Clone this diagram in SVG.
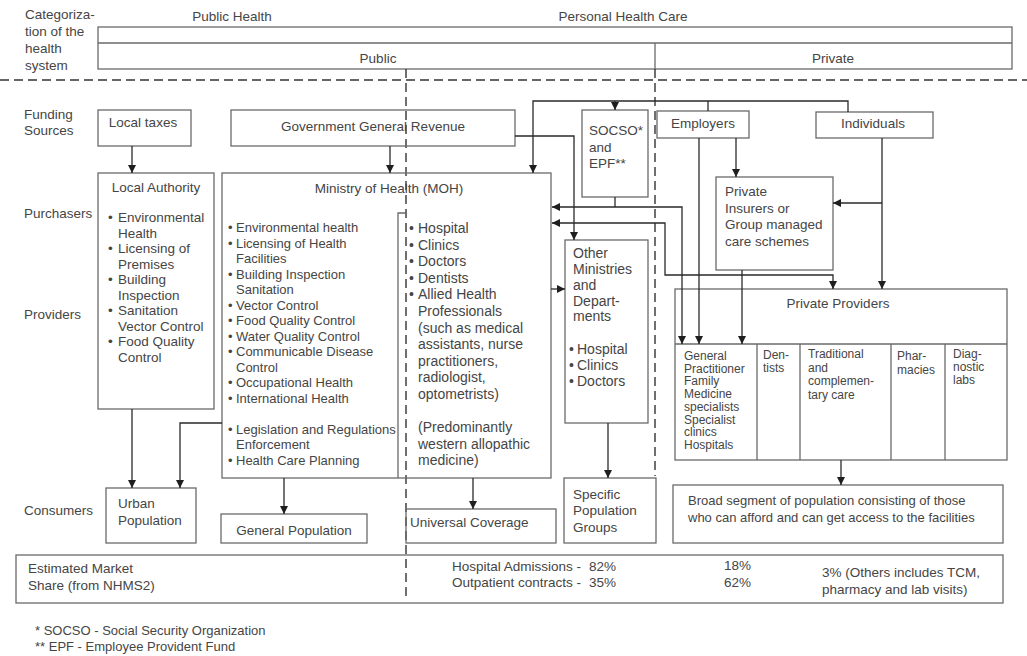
<svg xmlns="http://www.w3.org/2000/svg" width="1027" height="656" viewBox="0 0 1027 656">
  <defs>
    <marker id="arr" markerUnits="userSpaceOnUse" markerWidth="9" markerHeight="9" refX="8" refY="4" orient="auto-start-reverse">
      <path d="M0,0 L8,4 L0,8 z" fill="#1e1e1e"/>
    </marker>
    <style>
      .box { fill: none; stroke: #6a6a6a; stroke-width: 1.3; }
      .div { fill: none; stroke: #6a6a6a; stroke-width: 1.3; }
      .dash { fill: none; stroke: #333; stroke-width: 1.4; stroke-dasharray: 9 5; }
      .conn { fill: none; stroke: #2a2a2a; stroke-width: 1.3; }
      .arrow { marker-end: url(#arr); }
      .both { marker-start: url(#arr); marker-end: url(#arr); }
      text { font-family: "Liberation Sans", Arial, sans-serif; font-size: 13.5px; fill: #454545; }
      .s13 { font-size: 13px; }
      .s14 { font-size: 14px; }
      .s12 { font-size: 12px; }
      .mid { text-anchor: middle; }
      .end { text-anchor: end; }
    </style>
  </defs>
  <rect width="1027" height="656" fill="#ffffff"/>

  <!-- categorization header -->
  <g id="header">
    <text x="25" y="19">Categoriza-</text>
    <text x="25" y="36">tion of the</text>
    <text x="25" y="53">health</text>
    <text x="25" y="70">system</text>
    <text x="232" y="21" class="mid">Public Health</text>
    <text x="623" y="21" class="mid">Personal Health Care</text>
    <rect class="box" x="98" y="27" width="914" height="42"/>
    <line class="div" x1="98" y1="43" x2="1012" y2="43"/>
    <line class="div" x1="655" y1="43" x2="655" y2="69"/>
    <text x="378" y="63" class="mid">Public</text>
    <text x="833" y="63" class="mid">Private</text>
  </g>

  <!-- separators -->
  <g id="separators">
    <line class="dash" x1="0" y1="80" x2="1027" y2="80"/>
    <line class="dash" x1="406" y1="69" x2="406" y2="600"/>
    <line class="dash" x1="655" y1="69" x2="655" y2="476"/>
  </g>

  <!-- row labels -->
  <g id="row-labels">
    <text x="24" y="119">Funding</text>
    <text x="24" y="135">Sources</text>
    <text x="24" y="218">Purchasers</text>
    <text x="24" y="319">Providers</text>
    <text x="24" y="515">Consumers</text>
  </g>

  <!-- funding sources -->
  <g id="local-taxes">
    <rect class="box" x="98" y="110" width="93" height="36"/>
    <text x="143" y="127" class="mid">Local taxes</text>
  </g>
  <g id="government-revenue">
    <rect class="box" x="231" y="110" width="284" height="36"/>
    <text x="373" y="131" class="mid">Government General Revenue</text>
  </g>
  <g id="socso-epf">
    <rect class="box" x="582" y="110" width="66" height="87"/>
    <text x="589" y="135">SOCSO*</text>
    <text x="589" y="152">and</text>
    <text x="589" y="168">EPF**</text>
  </g>
  <g id="employers">
    <rect class="box" x="657" y="111" width="92" height="27"/>
    <text x="703" y="128" class="mid">Employers</text>
  </g>
  <g id="individuals">
    <rect class="box" x="816" y="112" width="117" height="26"/>
    <text x="873" y="128" class="mid">Individuals</text>
  </g>

  <!-- purchasers / providers -->
  <g id="local-authority">
    <rect class="box" x="98" y="173" width="116" height="236"/>
    <text x="156" y="192" class="mid">Local Authority</text>
    <text x="108" y="222">•</text><text x="118" y="222">Environmental</text>
    <text x="118" y="237.5">Health</text>
    <text x="108" y="253">•</text><text x="118" y="253">Licensing of</text>
    <text x="118" y="268.5">Premises</text>
    <text x="108" y="284">•</text><text x="118" y="284">Building</text>
    <text x="118" y="299.5">Inspection</text>
    <text x="108" y="315">•</text><text x="118" y="315">Sanitation</text>
    <text x="118" y="330.5">Vector Control</text>
    <text x="108" y="346">•</text><text x="118" y="346">Food Quality</text>
    <text x="118" y="361.5">Control</text>
  </g>

  <g id="moh">
    <rect class="box" x="222" y="173" width="329" height="305"/>
    <path class="div" d="M406,213 H398 V478"/>
    <text x="389" y="193" class="mid">Ministry of Health (MOH)</text>
    <text x="228" y="232" class="s13">•</text><text x="236" y="232" class="s13">Environmental health</text>
    <text x="228" y="247.5" class="s13">•</text><text x="236" y="247.5" class="s13">Licensing of Health</text>
    <text x="236" y="263" class="s13">Facilities</text>
    <text x="228" y="278.5" class="s13">•</text><text x="236" y="278.5" class="s13">Building Inspection</text>
    <text x="236" y="294" class="s13">Sanitation</text>
    <text x="228" y="309.5" class="s13">•</text><text x="236" y="309.5" class="s13">Vector Control</text>
    <text x="228" y="325" class="s13">•</text><text x="236" y="325" class="s13">Food Quality Control</text>
    <text x="228" y="340.5" class="s13">•</text><text x="236" y="340.5" class="s13">Water Quality Control</text>
    <text x="228" y="356" class="s13">•</text><text x="236" y="356" class="s13">Communicable Disease</text>
    <text x="236" y="371.5" class="s13">Control</text>
    <text x="228" y="387" class="s13">•</text><text x="236" y="387" class="s13">Occupational Health</text>
    <text x="228" y="402.5" class="s13">•</text><text x="236" y="402.5" class="s13">International Health</text>
    <text x="228" y="433.5" class="s13">•</text><text x="236" y="433.5" class="s13">Legislation and Regulations</text>
    <text x="236" y="449" class="s13">Enforcement</text>
    <text x="228" y="464.5" class="s13">•</text><text x="236" y="464.5" class="s13">Health Care Planning</text>
    <text x="409" y="233" class="s14">•</text><text x="418" y="233" class="s14">Hospital</text>
    <text x="409" y="249.5" class="s14">•</text><text x="418" y="249.5" class="s14">Clinics</text>
    <text x="409" y="266" class="s14">•</text><text x="418" y="266" class="s14">Doctors</text>
    <text x="409" y="282.5" class="s14">•</text><text x="418" y="282.5" class="s14">Dentists</text>
    <text x="409" y="299" class="s14">•</text><text x="418" y="299" class="s14">Allied Health</text>
    <text x="418" y="316" class="s14">Professionals</text>
    <text x="418" y="332.5" class="s14">(such as medical</text>
    <text x="418" y="349" class="s14">assistants, nurse</text>
    <text x="418" y="365.5" class="s14">practitioners,</text>
    <text x="418" y="382" class="s14">radiologist,</text>
    <text x="418" y="398.5" class="s14">optometrists)</text>
    <text x="418" y="432" class="s14">(Predominantly</text>
    <text x="418" y="448.5" class="s14">western allopathic</text>
    <text x="418" y="465" class="s14">medicine)</text>
  </g>

  <g id="other-ministries">
    <rect class="box" x="565" y="240" width="83" height="183"/>
    <text x="573" y="258" class="s14">Other</text>
    <text x="573" y="274" class="s14">Ministries</text>
    <text x="573" y="290" class="s14">and</text>
    <text x="573" y="306" class="s14">Depart-</text>
    <text x="573" y="321" class="s14">ments</text>
    <text x="569" y="354" class="s14">•</text><text x="577" y="354" class="s14">Hospital</text>
    <text x="569" y="370" class="s14">•</text><text x="577" y="370" class="s14">Clinics</text>
    <text x="569" y="386" class="s14">•</text><text x="577" y="386" class="s14">Doctors</text>
  </g>

  <g id="private-insurers">
    <rect class="box" x="716" y="177" width="117" height="93"/>
    <text x="725" y="196">Private</text>
    <text x="725" y="213">Insurers or</text>
    <text x="725" y="229">Group managed</text>
    <text x="725" y="246">care schemes</text>
  </g>

  <g id="private-providers">
    <rect class="box" x="675" y="289" width="332" height="171"/>
    <line class="div" x1="675" y1="344" x2="1007" y2="344"/>
    <line class="div" x1="757" y1="344" x2="757" y2="460"/>
    <line class="div" x1="800" y1="344" x2="800" y2="460"/>
    <line class="div" x1="891" y1="344" x2="891" y2="460"/>
    <line class="div" x1="945" y1="344" x2="945" y2="460"/>
    <text x="838" y="308" class="mid">Private Providers</text>
    <text x="684" y="360" class="s12">General</text>
    <text x="684" y="372.7" class="s12">Practitioner</text>
    <text x="684" y="385.4" class="s12">Family</text>
    <text x="684" y="398.1" class="s12">Medicine</text>
    <text x="684" y="410.8" class="s12">specialists</text>
    <text x="684" y="423.5" class="s12">Specialist</text>
    <text x="684" y="436.2" class="s12">clinics</text>
    <text x="684" y="448.9" class="s12">Hospitals</text>
    <text x="763" y="359" class="s12">Den-</text>
    <text x="763" y="372" class="s12">tists</text>
    <text x="808" y="358" class="s12">Traditional</text>
    <text x="808" y="371.5" class="s12">and</text>
    <text x="808" y="385" class="s12">complemen-</text>
    <text x="808" y="398.5" class="s12">tary care</text>
    <text x="897" y="360" class="s12">Phar-</text>
    <text x="897" y="374" class="s12">macies</text>
    <text x="953" y="358" class="s12">Diag-</text>
    <text x="953" y="371" class="s12">nostic</text>
    <text x="953" y="384" class="s12">labs</text>
  </g>

  <!-- consumers -->
  <g id="urban-population">
    <rect class="box" x="106" y="488" width="90" height="55"/>
    <text x="118" y="508">Urban</text>
    <text x="118" y="525">Population</text>
  </g>
  <g id="general-population">
    <rect class="box" x="221" y="514" width="146" height="29"/>
    <text x="294" y="535" class="mid">General Population</text>
  </g>
  <g id="universal-coverage">
    <rect class="box" x="406" y="509" width="150" height="34"/>
    <text x="410" y="527">Universal Coverage</text>
  </g>
  <g id="specific-groups">
    <rect class="box" x="564" y="478" width="92" height="65"/>
    <text x="573" y="499">Specific</text>
    <text x="573" y="515">Population</text>
    <text x="573" y="532">Groups</text>
  </g>
  <g id="broad-segment">
    <rect class="box" x="673" y="485" width="330" height="58"/>
    <text x="688" y="505" class="s13">Broad segment of population consisting of those</text>
    <text x="688" y="522" class="s13">who can afford and can get access to the facilities</text>
  </g>

  <!-- market share -->
  <g id="market-share">
    <rect class="box" x="16" y="555" width="987" height="48"/>
    <text x="28" y="573">Estimated Market</text>
    <text x="28" y="590">Share (from NHMS2)</text>
    <text x="581" y="571" class="end">Hospital Admissions -</text>
    <text x="589" y="571">82%</text>
    <text x="581" y="587" class="end">Outpatient contracts -</text>
    <text x="589" y="587">35%</text>
    <text x="724" y="570">18%</text>
    <text x="724" y="587">62%</text>
    <text x="822" y="577">3% (Others includes TCM,</text>
    <text x="822" y="594">pharmacy and lab visits)</text>
  </g>

  <!-- footnotes -->
  <g id="footnotes">
    <text x="35" y="635" class="s13">* SOCSO - Social Security Organization</text>
    <text x="35" y="651" class="s13">** EPF - Employee Provident Fund</text>
  </g>

  <!-- connectors -->
  <g id="connectors">
    <path class="conn arrow" d="M132,146 V173"/>
    <path class="conn arrow" d="M390,146 V173"/>
    <path class="conn arrow" d="M515,136 H574 V240"/>
    <path class="conn arrow" d="M848,112 V101 H533 V173"/>
    <path class="conn arrow" d="M615,101 V110"/>
    <path class="conn" d="M708,101 V111"/>
    <path class="conn" d="M615,197 V207"/>
    <path class="conn both" d="M552,207 H682 V344"/>
    <path class="conn both" d="M552,223 H665 V275 H833 V289"/>
    <path class="conn arrow" d="M699,138 V344"/>
    <path class="conn arrow" d="M736,138 V177"/>
    <path class="conn arrow" d="M742,270 V344"/>
    <path class="conn arrow" d="M882,138 V289"/>
    <path class="conn arrow" d="M882,203 H833"/>
    <path class="conn arrow" d="M551,289 H565"/>
    <path class="conn arrow" d="M132,409 V488"/>
    <path class="conn arrow" d="M222,423 H180 V488"/>
    <path class="conn arrow" d="M284,478 V514"/>
    <path class="conn arrow" d="M473,478 V509"/>
    <path class="conn arrow" d="M608,423 V478"/>
    <path class="conn arrow" d="M841,460 V485"/>
  </g>
</svg>
